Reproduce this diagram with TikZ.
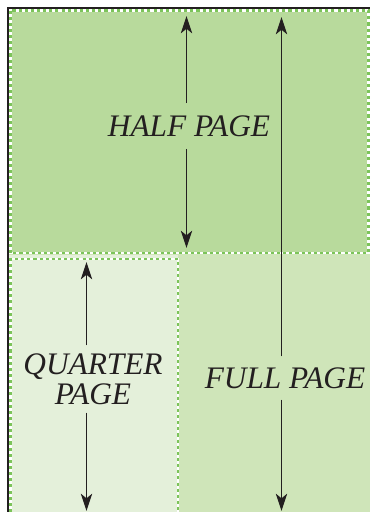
\documentclass[tikz,border=0pt]{standalone}
\usepackage{fontspec}
\setmainfont{Liberation Serif}
\usetikzlibrary{arrows.meta}
\definecolor{halfc}{HTML}{B8DA9C}
\definecolor{fullc}{HTML}{CFE5B9}
\definecolor{quarc}{HTML}{E4F0DA}
\definecolor{dotc}{HTML}{7CC45A}
\definecolor{txtc}{HTML}{231F20}
\tikzset{
  dotborder/.style={draw=white, line width=1.8pt, postaction={draw=dotc, line width=1.8pt, dash pattern=on 2.3pt off 2.3pt}},
  lbl/.style={font=\itshape\fontsize{23.5}{22.5}\selectfont, text=txtc, align=center, inner sep=0pt},
  dim/.style={draw=txtc, line width=1pt, -{Stealth[length=13pt,width=8.5pt,inset=3.5pt]}},
}
\begin{document}
\begin{tikzpicture}[x=0.75pt,y=-0.75pt]
\useasboundingbox (0,0) rectangle (370,512);
% full page background
\fill[fullc] (9,9) rectangle (370,512);
% quarter page
\fill[quarc] (9,255) rectangle (178,512);
\draw[dotborder] (10.5,512) -- (10.5,259) -- (178,259) -- (178,512);
% half page
\fill[halfc] (9,9) rectangle (369,253);
\draw[dotborder] (10.5,10.5) rectangle (368.5,253);
% black border
\draw[txtc, line width=2pt] (8,512) -- (8,8) -- (370,8);
% labels
\node[lbl, minimum height=34pt] (half) at (189,126) {HALF PAGE};
\node[lbl, minimum height=32pt] (full) at (285,378) {FULL PAGE};
\node[lbl, minimum height=50pt] (quarter) at (93,379) {QUARTER\\PAGE};
% arrow endpoints
\coordinate (halftop) at (186.5,16);
\coordinate (halfbot) at (186.5,248);
\coordinate (fulltop) at (281.5,17);
\coordinate (fullbot) at (281.5,511);
\coordinate (quartop) at (86.5,262);
\coordinate (quarbot) at (86.5,511);
% arrows
\draw[dim] (half.north -| halftop) -- (halftop);
\draw[dim] (half.south -| halfbot) -- (halfbot);
\draw[dim] (full.north -| fulltop) -- (fulltop);
\draw[dim] (full.south -| fullbot) -- (fullbot);
\draw[dim] (quarter.north -| quartop) -- (quartop);
\draw[dim] (quarter.south -| quarbot) -- (quarbot);
\end{tikzpicture}
\end{document}
